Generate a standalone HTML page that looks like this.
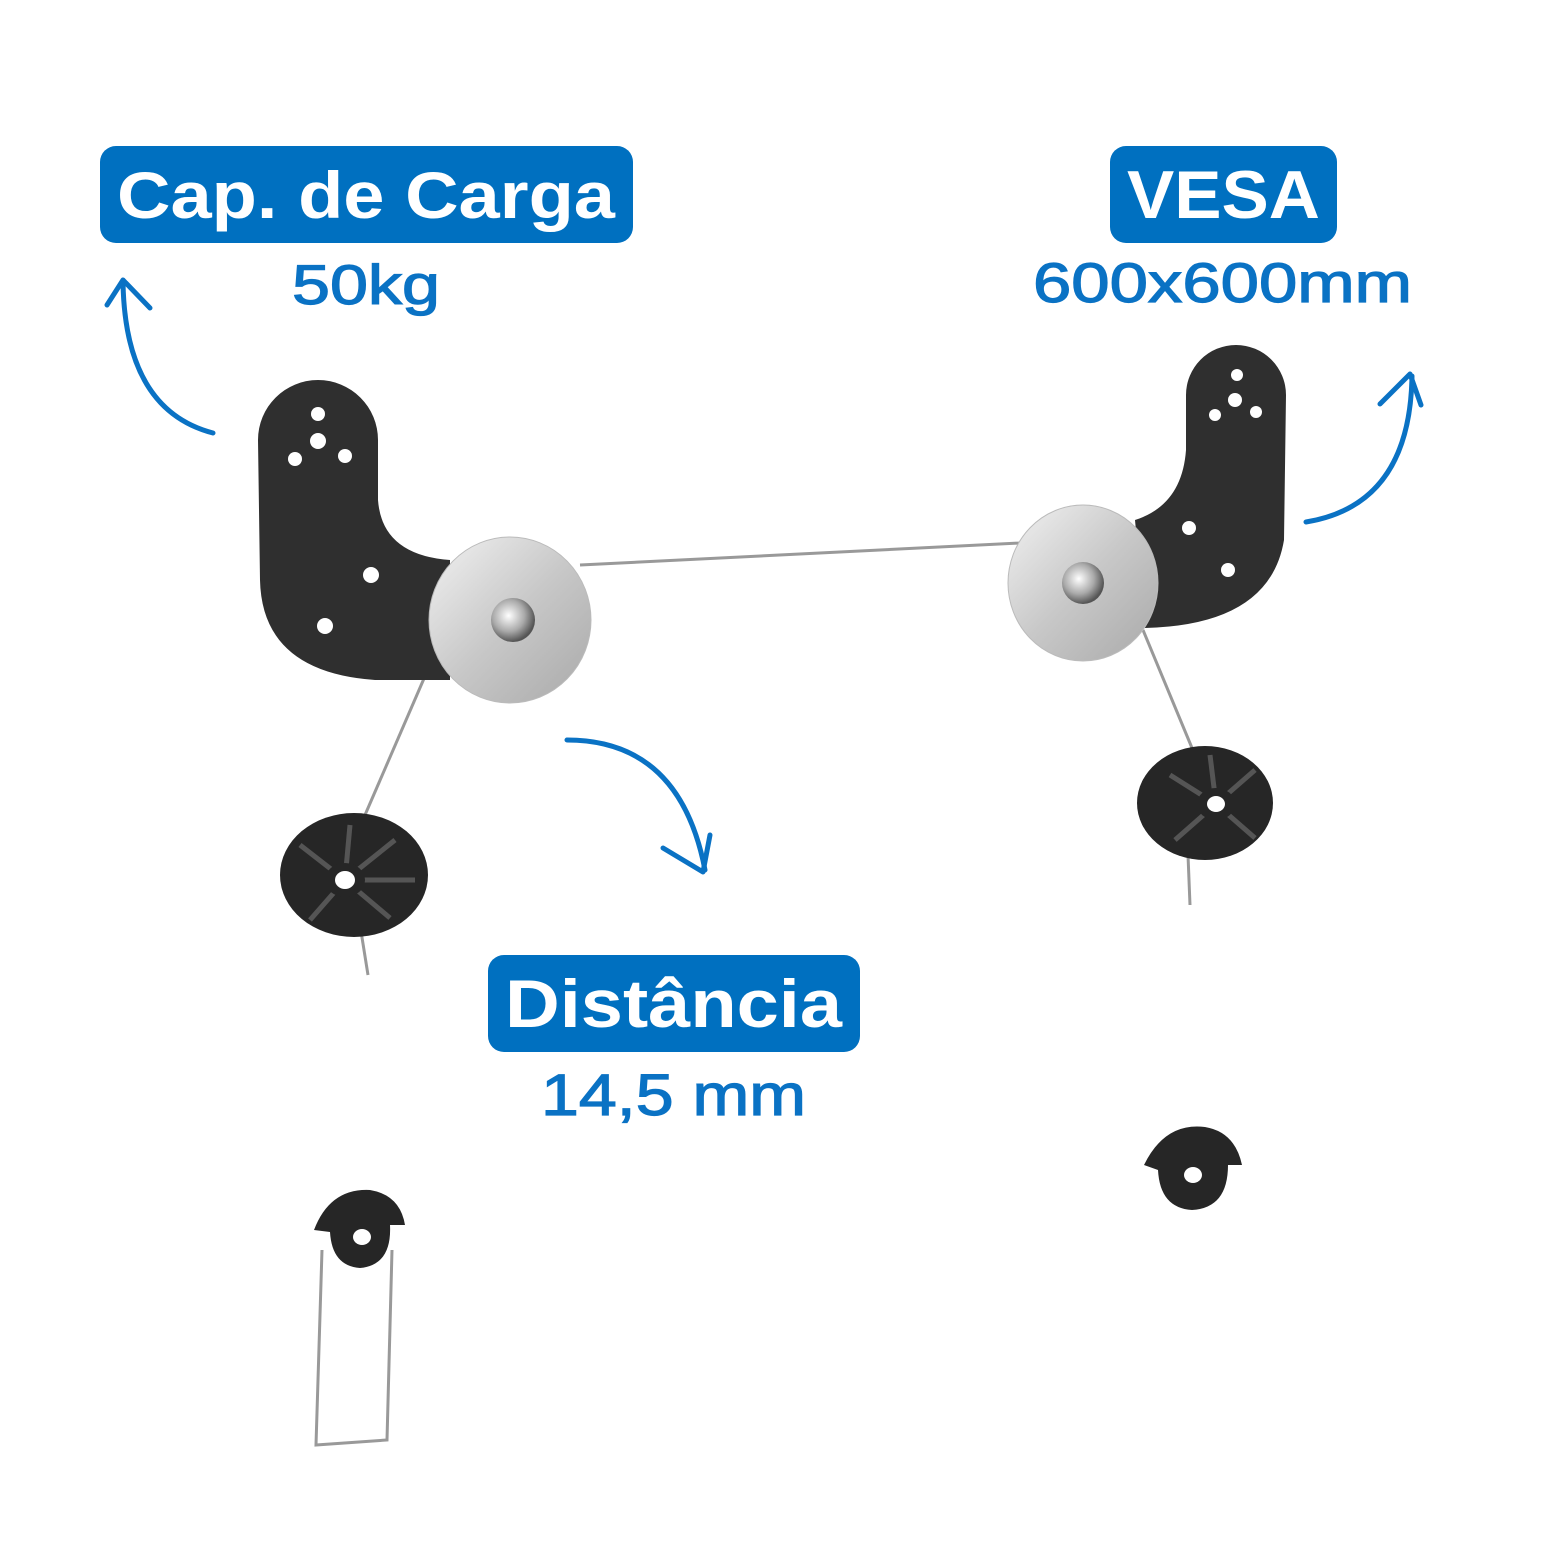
<!DOCTYPE html>
<html><head><meta charset="utf-8"><style>
html,body{margin:0;padding:0;background:#fff;}
svg{display:block}
</style></head><body>
<svg width="1563" height="1563" viewBox="0 0 1563 1563" xmlns="http://www.w3.org/2000/svg">
<defs>
<linearGradient id="wg" x1="0" y1="0" x2="1" y2="1">
<stop offset="0" stop-color="#f2f2f2"/><stop offset="0.5" stop-color="#c8c8c8"/><stop offset="1" stop-color="#a9a9a9"/>
</linearGradient>
<radialGradient id="bg" cx="0.4" cy="0.4" r="0.6">
<stop offset="0" stop-color="#fff"/><stop offset="0.6" stop-color="#aaa"/><stop offset="1" stop-color="#555"/>
</radialGradient>
</defs>
<g font-family="'Liberation Sans', sans-serif" font-weight="bold">
<rect x="100" y="146" width="533" height="97" rx="16" fill="#0070c0"/>
<text x="117" y="218" font-size="66" fill="#fff" textLength="498" lengthAdjust="spacingAndGlyphs">Cap. de Carga</text>
<rect x="1110" y="146" width="227" height="97" rx="16" fill="#0070c0"/>
<text x="1127" y="218" font-size="68" fill="#fff" textLength="193" lengthAdjust="spacingAndGlyphs">VESA</text>
<rect x="488" y="955" width="372" height="97" rx="16" fill="#0070c0"/>
<text x="505" y="1027" font-size="68" fill="#fff" textLength="337" lengthAdjust="spacingAndGlyphs">Distância</text>
</g>
<g font-family="'Liberation Sans', sans-serif" font-weight="normal" fill="#0a72c4" stroke="#0a72c4" stroke-width="1.2">
<text x="292" y="304" font-size="56" textLength="148" lengthAdjust="spacingAndGlyphs">50kg</text>
<text x="1033" y="302" font-size="56" textLength="379" lengthAdjust="spacingAndGlyphs">600x600mm</text>
<text x="541" y="1115" font-size="58" textLength="265" lengthAdjust="spacingAndGlyphs">14,5 mm</text>
</g>
<g fill="none" stroke="#0a72c4" stroke-width="5" stroke-linecap="round" stroke-linejoin="round">
<path d="M213,433 Q125,410 123,282"/><path d="M107,305 L123,280 L150,308"/>
<path d="M1306,522 Q1410,505 1412,376"/><path d="M1380,404 L1410,374 L1421,405"/>
<path d="M567,740 Q680,740 705,870"/><path d="M663,848 L703,872 L710,835"/>
</g>
<g stroke="#999" stroke-width="3" fill="none">
<line x1="580" y1="565" x2="1020" y2="543"/>
<line x1="432" y1="660" x2="365" y2="815"/>
<line x1="1143" y1="630" x2="1192" y2="748"/>
<path d="M360,925 L368,975"/><path d="M1188,855 L1190,905"/>
<path d="M322,1250 L316,1445 L387,1440 L392,1250"/>
</g>
<path d="M258,440 A60,60 0 0 1 378,440 L378,500 Q382,555 450,560 L450,680 L375,680 Q262,672 260,580 Z" fill="#2f2f2f"/>
<g fill="#fff"><circle cx="318" cy="414" r="7"/><circle cx="318" cy="441" r="8"/><circle cx="295" cy="459" r="7"/><circle cx="345" cy="456" r="7"/><circle cx="371" cy="575" r="8"/><circle cx="325" cy="626" r="8"/></g>
<path d="M1186,395 A50,50 0 0 1 1286,395 L1284,540 Q1270,625 1145,628 L1135,520 Q1182,505 1186,450 Z" fill="#2f2f2f"/>
<g fill="#fff"><circle cx="1237" cy="375" r="6"/><circle cx="1235" cy="400" r="7"/><circle cx="1215" cy="415" r="6"/><circle cx="1256" cy="412" r="6"/><circle cx="1189" cy="528" r="7"/><circle cx="1228" cy="570" r="7"/></g>
<ellipse cx="510" cy="620" rx="81" ry="83" fill="url(#wg)" stroke="#bbb"/>
<circle cx="513" cy="620" r="22" fill="url(#bg)"/>
<ellipse cx="1083" cy="583" rx="75" ry="78" fill="url(#wg)" stroke="#bbb"/>
<circle cx="1083" cy="583" r="21" fill="url(#bg)"/>
<ellipse cx="354" cy="875" rx="74" ry="62" fill="#262626"/>
<ellipse cx="1205" cy="803" rx="68" ry="57" fill="#262626"/>
<g stroke="#555" stroke-width="5">
<line x1="345" y1="880" x2="300" y2="845"/><line x1="345" y1="880" x2="395" y2="840"/><line x1="345" y1="880" x2="310" y2="920"/><line x1="345" y1="880" x2="390" y2="918"/><line x1="345" y1="880" x2="350" y2="825"/><line x1="345" y1="880" x2="415" y2="880"/>
<line x1="1216" y1="804" x2="1170" y2="775"/><line x1="1216" y1="804" x2="1255" y2="770"/><line x1="1216" y1="804" x2="1175" y2="840"/><line x1="1216" y1="804" x2="1255" y2="838"/><line x1="1216" y1="804" x2="1210" y2="755"/>
</g>
<ellipse cx="345" cy="880" rx="20" ry="17" fill="#262626"/>
<ellipse cx="345" cy="880" rx="10" ry="9" fill="#fff"/>
<ellipse cx="1216" cy="804" rx="19" ry="16" fill="#262626"/>
<ellipse cx="1216" cy="804" rx="9" ry="8" fill="#fff"/>
<path d="M314,1230 Q330,1188 370,1190 Q400,1195 405,1225 L390,1225 Q392,1265 360,1268 Q332,1266 330,1232 Z" fill="#262626"/>
<ellipse cx="362" cy="1237" rx="9" ry="8" fill="#fff"/>
<path d="M1144,1165 Q1165,1122 1205,1127 Q1235,1132 1242,1165 L1228,1165 Q1228,1208 1192,1210 Q1160,1208 1158,1170 Z" fill="#262626"/>
<ellipse cx="1193" cy="1175" rx="9" ry="8" fill="#fff"/>
</svg>
</body></html>
